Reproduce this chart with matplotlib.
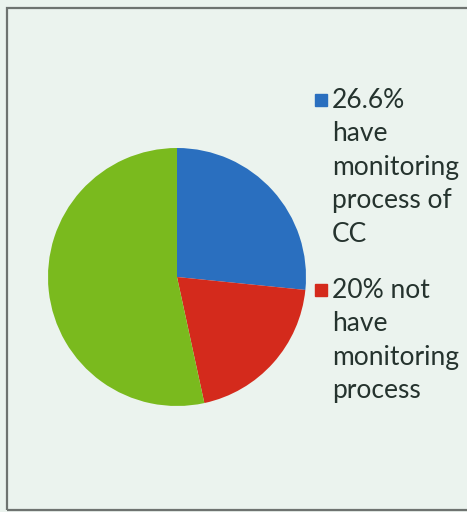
import matplotlib.pyplot as plt
from matplotlib.patches import Rectangle

shares = [26.6, 20.0, 53.4]
colors = ['#2a6fbf', '#d42a1c', '#7aba1e']
labels = ['26.6%\nhave\nmonitoring\nprocess of\nCC',
          '20% not\nhave\nmonitoring\nprocess']

fig = plt.figure(figsize=(4.67, 5.12), dpi=100)
fig.patch.set_facecolor('#ebf3ee')

# outer frame of the slide
fig.patches.append(Rectangle((7 / 467, 2 / 512), 470 / 467, 502 / 512,
                             transform=fig.transFigure, fill=False,
                             edgecolor='#6e7370', linewidth=1.6))

ax = fig.add_axes([48 / 467, 106 / 512, 258 / 467, 258 / 512])
ax.pie(shares, colors=colors, startangle=90, counterclock=False,
       wedgeprops=dict(linewidth=0))
ax.set_xlim(-1, 1)
ax.set_ylim(-1, 1)
ax.set_aspect('equal')
ax.axis('off')

# legend drawn by hand so the marker sits on the first line
tops = [88, 278]
for lab, col, top in zip(labels, colors[:2], tops):
    fig.patches.append(Rectangle((315 / 467, 1 - (top + 18) / 512), 12 / 467, 12 / 512,
                                 transform=fig.transFigure, color=col))
    fig.text(332 / 467, 1 - top / 512, lab, ha='left', va='top',
             fontsize=19, family='Lato', color='#25332e', linespacing=1.42)

fig.savefig('out.png', dpi=100, facecolor=fig.get_facecolor())
